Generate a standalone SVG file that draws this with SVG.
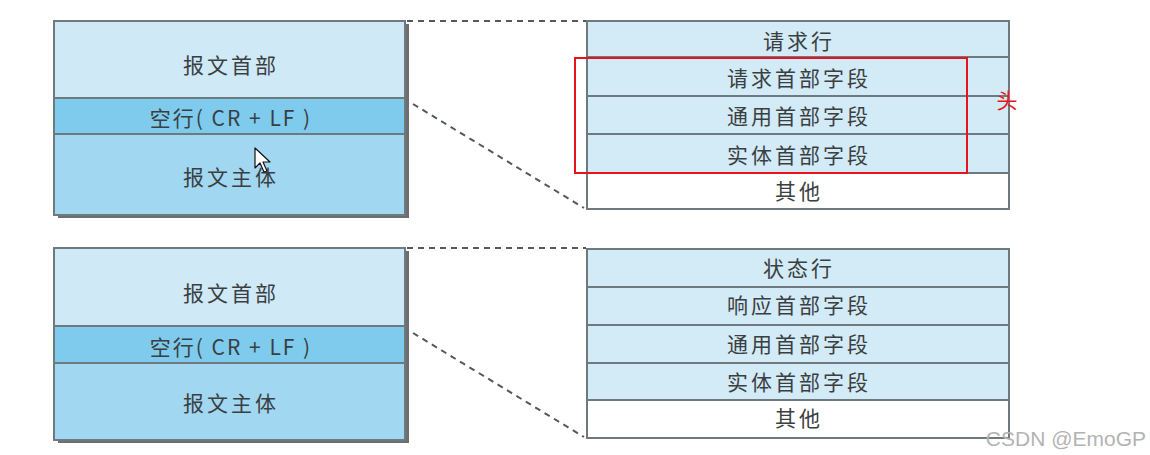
<svg xmlns="http://www.w3.org/2000/svg" width="1150" height="455" viewBox="0 0 1150 455">
<style>
.t{font-family:"Noto Sans CJK SC","Noto Sans",sans-serif;font-size:21px;fill:#3a3f42;text-anchor:middle;dominant-baseline:central;letter-spacing:3px}
.crlf{letter-spacing:2px}
.b{stroke:#6f7a7e;stroke-width:2}
.sh{fill:#6b6f72}
.hd{fill:#d0e9f7}
.mid{fill:#7ecbee}
.body{fill:#a2d7f2}
.row{fill:#d3eaf7}
.wh{fill:#ffffff}
.dash{stroke:#55595c;stroke-width:2;stroke-dasharray:6 5;fill:none}
</style>
<rect width="1150" height="455" fill="#ffffff"/>
<g id="connectors">
<line class="dash" x1="407" y1="21" x2="586" y2="21"/>
<line class="dash" x1="413" y1="104" x2="584" y2="208"/>
<line class="dash" x1="407" y1="248" x2="586" y2="248"/>
<line class="dash" x1="413" y1="333" x2="584" y2="437"/>
</g>
<g id="msg-top">
<rect class="sh" x="58" y="24" width="351" height="194"/>
<rect class="hd" x="54" y="21" width="351" height="77"/>
<rect class="mid" x="54" y="98" width="351" height="36"/>
<rect class="body" x="54" y="134" width="351" height="81"/>
<rect x="54" y="21" width="351" height="194" fill="none" class="b"/>
<line class="b" x1="54" y1="98" x2="405" y2="98"/>
<line class="b" x1="54" y1="134" x2="405" y2="134"/>
<text class="t" x="231" y="64">报文首部</text>
<text class="t crlf" x="231" y="117">空行( CR + LF )</text>
<text class="t" x="231" y="176">报文主体</text>
</g>
<g id="msg-bottom">
<rect class="sh" x="58" y="251" width="351" height="192"/>
<rect class="hd" x="54" y="248" width="351" height="78"/>
<rect class="mid" x="54" y="326" width="351" height="37"/>
<rect class="body" x="54" y="363" width="351" height="77"/>
<rect x="54" y="248" width="351" height="192" fill="none" class="b"/>
<line class="b" x1="54" y1="326" x2="405" y2="326"/>
<line class="b" x1="54" y1="363" x2="405" y2="363"/>
<text class="t" x="231" y="292">报文首部</text>
<text class="t crlf" x="231" y="346">空行( CR + LF )</text>
<text class="t" x="231" y="402">报文主体</text>
</g>
<g id="req-header">
<rect class="row" x="587" y="21" width="422" height="152"/>
<rect class="wh" x="587" y="173" width="422" height="36"/>
<rect x="587" y="21" width="422" height="188" fill="none" class="b"/>
<line class="b" x1="587" y1="57" x2="1009" y2="57"/>
<line class="b" x1="587" y1="96" x2="1009" y2="96"/>
<line class="b" x1="587" y1="134" x2="1009" y2="134"/>
<line class="b" x1="587" y1="173" x2="1009" y2="173"/>
<text class="t" x="799" y="40">请求行</text>
<text class="t" x="799" y="77">请求首部字段</text>
<text class="t" x="799" y="115">通用首部字段</text>
<text class="t" x="799" y="154">实体首部字段</text>
<text class="t" x="799" y="190">其他</text>
</g>
<g id="resp-header">
<rect class="row" x="587" y="249" width="422" height="151"/>
<rect class="wh" x="587" y="400" width="422" height="38"/>
<rect x="587" y="249" width="422" height="189" fill="none" class="b"/>
<line class="b" x1="587" y1="287" x2="1009" y2="287"/>
<line class="b" x1="587" y1="325" x2="1009" y2="325"/>
<line class="b" x1="587" y1="363" x2="1009" y2="363"/>
<line class="b" x1="587" y1="400" x2="1009" y2="400"/>
<text class="t" x="799" y="267">状态行</text>
<text class="t" x="799" y="304">响应首部字段</text>
<text class="t" x="799" y="343">通用首部字段</text>
<text class="t" x="799" y="381">实体首部字段</text>
<text class="t" x="799" y="417">其他</text>
</g>
<g id="highlight">
<rect x="575" y="58" width="392" height="115" fill="none" stroke="#e8141c" stroke-width="2"/>
<text x="1007" y="99" font-family="Noto Sans CJK SC,sans-serif" font-size="21" fill="#e8141c" text-anchor="middle" dominant-baseline="central">头</text>
</g>
<g id="cursor">
<polygon points="255,148 255,168 260,163 264,172 267,171 263,162 270,162" fill="#ffffff" stroke="#111111" stroke-width="1.2" stroke-linejoin="round"/>
</g>
<text x="1146" y="446" font-family="Liberation Sans,Arial,sans-serif" font-size="21" fill="#b3b3b3" text-anchor="end">CSDN @EmoGP</text>
</svg>
